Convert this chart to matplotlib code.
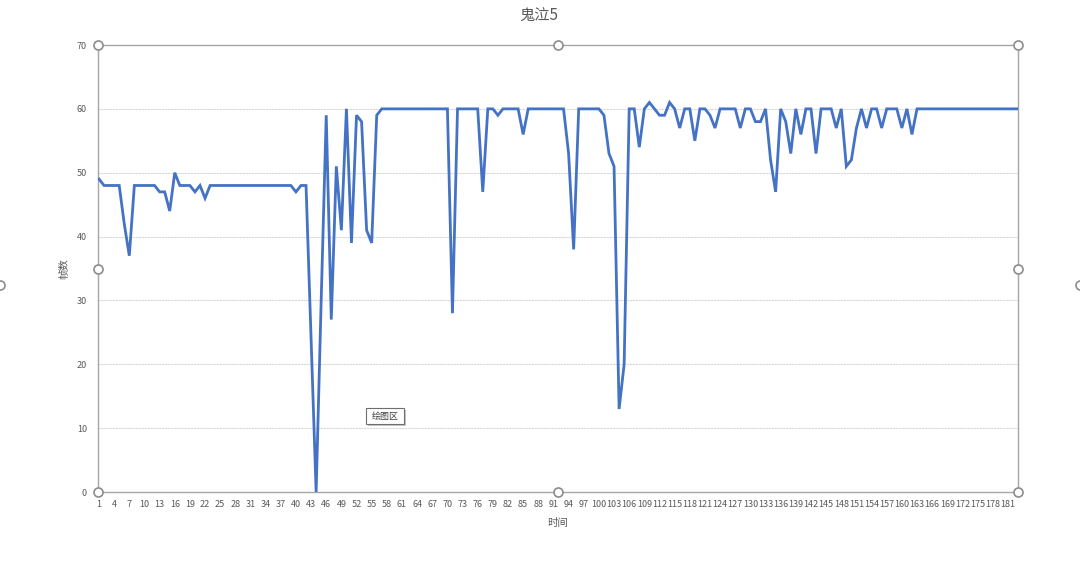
import matplotlib
matplotlib.use("Agg")
import matplotlib.pyplot as plt
from matplotlib.patches import Rectangle

plt.rcParams['font.family'] = ['Noto Sans CJK SC', 'DejaVu Sans']

title = "鬼泣5"
x_label = "时间"
y_label = "帧数"

fps = [
    49, 48, 48, 48, 48, 42, 37, 48, 48, 48,      # 1-10
    48, 48, 47, 47, 44, 50, 48, 48, 48, 47,      # 11-20
    48, 46, 48, 48, 48, 48, 48, 48, 48, 48,      # 21-30
    48, 48, 48, 48, 48, 48, 48, 48, 48, 47,      # 31-40
    48, 48, 24, 0, 30, 59, 27, 51, 41, 60,       # 41-50
    39, 59, 58, 41, 39, 59, 60, 60, 60, 60,      # 51-60
    60, 60, 60, 60, 60, 60, 60, 60, 60, 60,      # 61-70
    28, 60, 60, 60, 60, 60, 47, 60, 60, 59,      # 71-80
    60, 60, 60, 60, 56, 60, 60, 60, 60, 60,      # 81-90
    60, 60, 60, 53, 38, 60, 60, 60, 60, 60,      # 91-100
    59, 53, 51, 13, 20, 60, 60, 54, 60, 61,      # 101-110
    60, 59, 59, 61, 60, 57, 60, 60, 55, 60,      # 111-120
    60, 59, 57, 60, 60, 60, 60, 57, 60, 60,      # 121-130
    58, 58, 60, 52, 47, 60, 58, 53, 60, 56,      # 131-140
    60, 60, 53, 60, 60, 60, 57, 60, 51, 52,      # 141-150
    57, 60, 57, 60, 60, 57, 60, 60, 60, 57,      # 151-160
    60, 56, 60, 60, 60, 60, 60, 60, 60, 60,      # 161-170
    60, 60, 60, 60, 60, 60, 60, 60, 60, 60,      # 171-180
    60, 60, 60,                                  # 181-183
]
categories = list(range(1, len(fps) + 1))
x_tick_labels = [str(c) for c in categories[::3]]
y_ticks = [0, 10, 20, 30, 40, 50, 60, 70]

fig = plt.figure(figsize=(10.8, 5.65), dpi=100)
ax = fig.add_axes([98/1080, 1-492/565, 920/1080, 447/565])

ax.plot(categories, fps, color='#4472C4', linewidth=2.0, solid_joinstyle='miter', zorder=3)

ax.set_xlim(categories[0] - 0.2, categories[-1])
ax.set_ylim(0, 70)
ax.set_yticks(y_ticks)
ax.set_yticklabels([str(v) for v in y_ticks])
ax.set_xticks(categories[::3])
ax.set_xticklabels(x_tick_labels)
ax.tick_params(axis='both', length=0, labelsize=6.5, colors='#595959')
ax.tick_params(axis='x', pad=6)
ax.tick_params(axis='y', pad=8)

for v in y_ticks[1:-1]:
    ax.axhline(v, color='#d9d9d9', linewidth=0.8, linestyle=(0, (2, 0.6)), zorder=1)

for s in ax.spines.values():
    s.set_color('#a6a6a6')
    s.set_linewidth(1.0)

ax.set_xlabel(x_label, fontsize=7.5, color='#595959', labelpad=6)
ax.set_ylabel(y_label, fontsize=7.5, color='#595959', labelpad=5)

fig.text(539/1080, 1-16/565, title, ha='center', va='center', fontsize=11, color='#595959')

# selection handles of the plot area
hx = [98, 558, 1018, 98, 1018, 98, 558, 1018]
hy = [45, 45, 45, 269, 269, 492, 492, 492]
fig.add_artist(plt.Line2D([h/1080 for h in hx], [1-h/565 for h in hy], linestyle='none',
                          marker='o', markersize=6.5, markerfacecolor='white',
                          markeredgecolor='#8c8c8c', markeredgewidth=1.2, zorder=10))
# chart area handles (half visible at edges)
fig.add_artist(plt.Line2D([0, 1], [1-285/565, 1-285/565], linestyle='none',
                          marker='o', markersize=6.5, markerfacecolor='white',
                          markeredgecolor='#8c8c8c', markeredgewidth=1.2, zorder=10))

# tooltip "绘图区"
fig.add_artist(Rectangle((368/1080, 1-426/565), 38/1080, 16/565, transform=fig.transFigure,
                         facecolor='#c8c8c8', edgecolor='none', zorder=11))
fig.add_artist(Rectangle((366/1080, 1-424/565), 38/1080, 16/565, transform=fig.transFigure,
                         facecolor='white', edgecolor='#6e6e6e', linewidth=0.8, zorder=12))
fig.text(385/1080, 1-416/565, "绘图区", ha='center', va='center', fontsize=6.5,
         color='#404040', zorder=13)

fig.savefig("out.png", dpi=100)
